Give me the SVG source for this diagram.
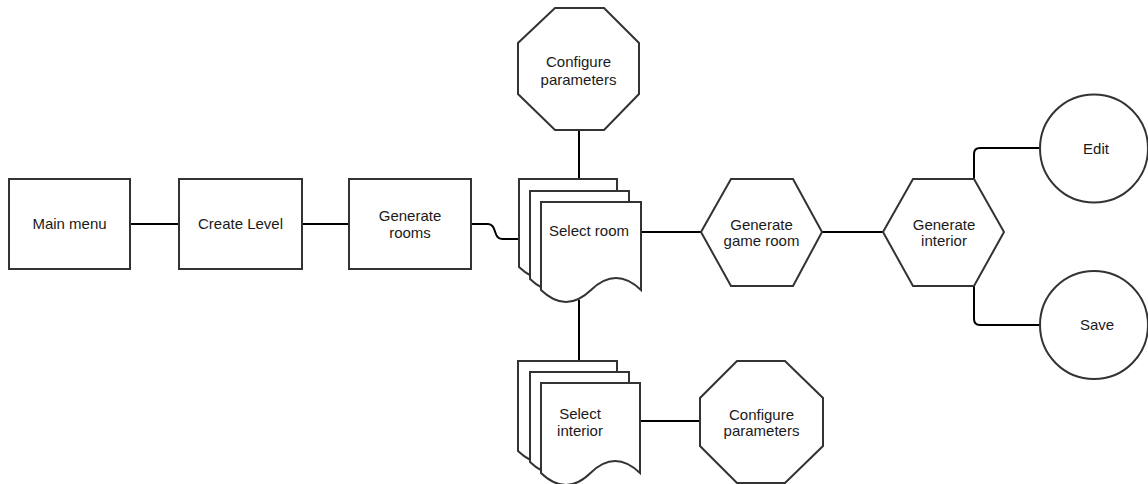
<svg xmlns="http://www.w3.org/2000/svg" width="1148" height="484" viewBox="0 0 1148 484">
  <style>
    .shape { fill: #ffffff; stroke: #333333; stroke-width: 2; }
    .edge { fill: none; stroke: #000000; stroke-width: 2; }
    .label { font-family: "Liberation Sans", Arial, sans-serif; font-size: 15px; fill: #1a1a1a; text-anchor: middle; }
  </style>
  <rect width="1148" height="484" fill="#ffffff"/>

  <!-- connectors -->
  <g id="connectors">
    <path class="edge" d="M130,224 H179"/>
    <path class="edge" d="M302,224 H349"/>
    <path class="edge" d="M471,224 H488 C497,224 493,239 502,239 H519"/>
    <path class="edge" d="M579,130 V179"/>
    <path class="edge" d="M579,300 V361"/>
    <path class="edge" d="M640,421 H700"/>
    <path class="edge" d="M641,232 H701"/>
    <path class="edge" d="M822,232 H883"/>
    <path class="edge" d="M974,179 V154 Q974,148 980,148 H1041"/>
    <path class="edge" d="M974,286 V319 Q974,325 980,325 H1041"/>
  </g>

  <g id="main-menu">
    <rect class="shape" x="9" y="179" width="121" height="90"/>
    <text class="label" x="69.5" y="229">Main menu</text>
  </g>

  <g id="create-level">
    <rect class="shape" x="179" y="179" width="123" height="90"/>
    <text class="label" x="240.5" y="229">Create Level</text>
  </g>

  <g id="generate-rooms">
    <rect class="shape" x="349" y="179" width="122" height="90"/>
    <text class="label" x="410" y="221">Generate</text>
    <text class="label" x="410" y="238">rooms</text>
  </g>

  <g id="configure-parameters-top">
    <polygon class="shape" points="555,8 604,8 639,43 639,94 604,130 555,130 518,94 518,43"/>
    <text class="label" x="578.5" y="67">Configure</text>
    <text class="label" x="578.5" y="85">parameters</text>
  </g>

  <g id="select-room">
    <path class="shape" d="M519,179 H617 V267 Q592,243 568,267 Q544,291 519,267 Z"/>
    <path class="shape" d="M530,191 H629 V279 Q604,255 579.5,279 Q555,303 530,279 Z"/>
    <path class="shape" d="M541,202 H641 V290 Q616,266 591,290 Q566,314 541,290 Z"/>
    <text class="label" x="589" y="236">Select room</text>
  </g>

  <g id="select-interior">
    <path class="shape" d="M518,361 H617 V451 Q592,427 567.5,451 Q543,475 518,451 Z"/>
    <path class="shape" d="M530,372 H629 V462 Q604,438 579.5,462 Q555,486 530,462 Z"/>
    <path class="shape" d="M541,383 H640 V473 Q615,449 590.5,473 Q566,497 541,473 Z"/>
    <text class="label" x="580" y="419">Select</text>
    <text class="label" x="580" y="436">interior</text>
  </g>

  <g id="configure-parameters-bottom">
    <polygon class="shape" points="737,361 785,361 823,398 823,446 785,483 737,483 700,446 700,398"/>
    <text class="label" x="761.5" y="420">Configure</text>
    <text class="label" x="761.5" y="436">parameters</text>
  </g>

  <g id="generate-game-room">
    <polygon class="shape" points="701,232 731,179 793,179 822,232 793,286 731,286"/>
    <text class="label" x="761.5" y="230">Generate</text>
    <text class="label" x="761.5" y="246">game room</text>
  </g>

  <g id="generate-interior">
    <polygon class="shape" points="883,232 913,179 974,179 1004,232 974,286 913,286"/>
    <text class="label" x="944" y="230">Generate</text>
    <text class="label" x="944" y="246">interior</text>
  </g>

  <g id="edit">
    <circle class="shape" cx="1094" cy="148.5" r="54"/>
    <text class="label" x="1096" y="154">Edit</text>
  </g>

  <g id="save">
    <circle class="shape" cx="1094" cy="325" r="54"/>
    <text class="label" x="1097" y="330">Save</text>
  </g>
</svg>
